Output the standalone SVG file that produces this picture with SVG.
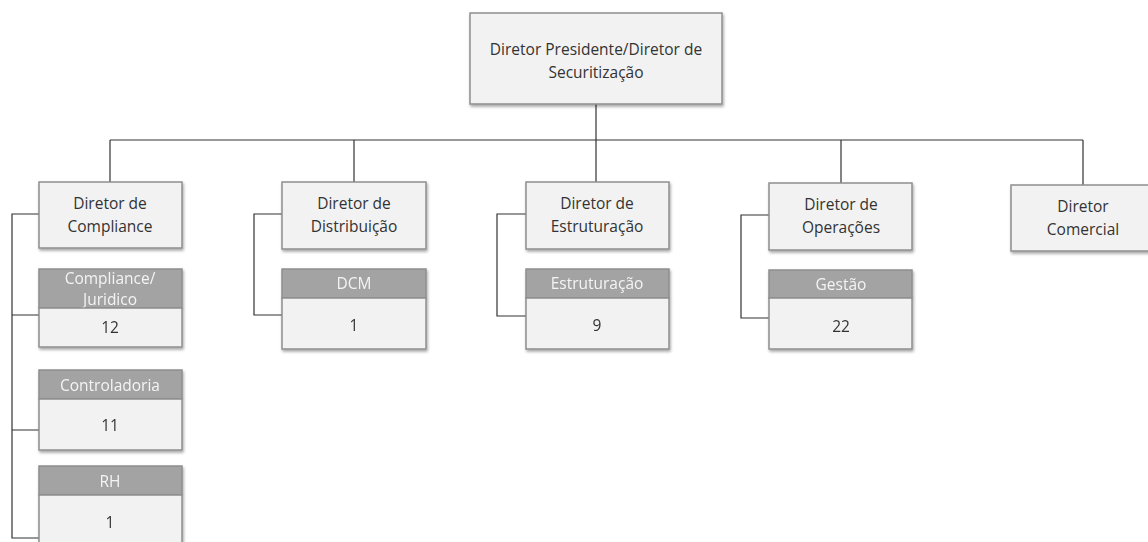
<svg xmlns="http://www.w3.org/2000/svg" width="1148" height="542" viewBox="0 0 1148 542">
<defs>
<filter id="sh" x="-10%" y="-10%" width="125%" height="130%">
<feGaussianBlur in="SourceAlpha" stdDeviation="1.5"/>
<feOffset dx="1" dy="2" result="b"/>
<feComponentTransfer><feFuncA type="linear" slope="0.35"/></feComponentTransfer>
<feMerge><feMergeNode/><feMergeNode in="SourceGraphic"/></feMerge>
</filter>
</defs>
<style>
.box{fill:#f2f2f2;stroke:#8e8e8e;stroke-width:1.5;filter:url(#sh)}
.hd{fill:#a3a3a3;stroke:#8e8e8e;stroke-width:1.5}
.val{fill:#f2f2f2;stroke:#8e8e8e;stroke-width:1.5}
.t{font-family:"Open Sans","DejaVu Sans",sans-serif;font-size:15.5px;fill:#333;text-anchor:middle}
.ht{font-family:"Open Sans","DejaVu Sans",sans-serif;font-size:15.5px;fill:#f4f4f4;text-anchor:middle}
.ln{fill:none;stroke:#333;stroke-width:1.2}
</style>
<rect width="1148" height="542" fill="#fff"/>
<g id="connectors">
<path class="ln" d="M596 104V140M110 140H1083M110 140V182M354 140V182M596 140V182M841 140V183M1083 140V185"/>
<path class="ln" d="M39 214H12V538H39M12 315H39M12 430H39"/>
<path class="ln" d="M282 214H254V315H282"/>
<path class="ln" d="M526 214H497V316H526"/>
<path class="ln" d="M769 215H741V318H769"/>
</g>
<g id="n-presidente">
<rect class="box" x="470" y="13" width="252" height="91"/>
<text class="t" x="596" y="55">Diretor Presidente/Diretor de</text>
<text class="t" x="596" y="78">Securitização</text>
</g>
<g id="n-compliance">
<rect class="box" x="39" y="182" width="143" height="66"/>
<text class="t" x="110" y="209">Diretor de</text>
<text class="t" x="110" y="232">Compliance</text>
</g>
<g id="n-compliance-juridico" filter="url(#sh)">
<rect class="hd" x="39" y="269" width="143" height="39"/>
<text class="ht" x="110" y="284">Compliance/</text>
<text class="ht" x="110" y="305">Juridico</text>
<rect class="val" x="39" y="308" width="143" height="39"/>
<text class="t" x="110" y="333">12</text>
</g>
<g id="n-controladoria" filter="url(#sh)">
<rect class="hd" x="39" y="370" width="143" height="29"/>
<text class="ht" x="110" y="391">Controladoria</text>
<rect class="val" x="39" y="399" width="143" height="51"/>
<text class="t" x="110" y="431">11</text>
</g>
<g id="n-rh" filter="url(#sh)">
<rect class="hd" x="39" y="466" width="143" height="29"/>
<text class="ht" x="110" y="487">RH</text>
<rect class="val" x="39" y="495" width="143" height="55"/>
<text class="t" x="110" y="528">1</text>
</g>
<g id="n-distribuicao">
<rect class="box" x="282" y="182" width="144" height="67"/>
<text class="t" x="354" y="209">Diretor de</text>
<text class="t" x="354" y="232">Distribuição</text>
</g>
<g id="n-dcm" filter="url(#sh)">
<rect class="hd" x="282" y="269" width="144" height="29"/>
<text class="ht" x="354" y="289">DCM</text>
<rect class="val" x="282" y="298" width="144" height="51"/>
<text class="t" x="354" y="331">1</text>
</g>
<g id="n-estruturacao-dir">
<rect class="box" x="526" y="182" width="143" height="67"/>
<text class="t" x="597" y="209">Diretor de</text>
<text class="t" x="597" y="232">Estruturação</text>
</g>
<g id="n-estruturacao" filter="url(#sh)">
<rect class="hd" x="526" y="269" width="143" height="29"/>
<text class="ht" x="597" y="289">Estruturação</text>
<rect class="val" x="526" y="298" width="143" height="51"/>
<text class="t" x="597" y="331">9</text>
</g>
<g id="n-operacoes">
<rect class="box" x="769" y="183" width="143" height="67"/>
<text class="t" x="841" y="210">Diretor de</text>
<text class="t" x="841" y="233">Operações</text>
</g>
<g id="n-gestao" filter="url(#sh)">
<rect class="hd" x="769" y="270" width="143" height="28"/>
<text class="ht" x="841" y="290">Gestão</text>
<rect class="val" x="769" y="298" width="143" height="51"/>
<text class="t" x="841" y="332">22</text>
</g>
<g id="n-comercial">
<rect class="box" x="1011" y="185" width="143" height="66"/>
<text class="t" x="1083" y="212">Diretor</text>
<text class="t" x="1083" y="235">Comercial</text>
</g>
</svg>
